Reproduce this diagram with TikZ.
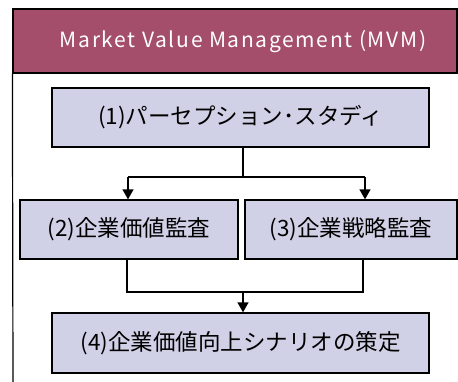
\documentclass[tikz,border=0pt]{standalone}
\usepackage{fontspec}
\setmainfont{Noto Sans CJK JP}
\newfontfamily\jpfont{Noto Sans CJK JP}
\newfontfamily\hdrfont[LetterSpace=8]{Noto Sans CJK JP}
\usetikzlibrary{arrows.meta}
\definecolor{hdr}{RGB}{164,78,108}
\definecolor{boxfill}{RGB}{208,208,230}
\tikzset{
  stepbox/.style={draw=black, line width=1.3pt, fill=boxfill, inner sep=0pt,
    font=\jpfont\fontsize{22.5}{26}\selectfont, text=black},
  conn/.style={draw=black, line width=1.3pt},
  arr/.style={conn, -{Triangle[length=10pt,width=11pt]}}
}
\begin{document}
\begin{tikzpicture}[x=1pt,y=-1pt]
\useasboundingbox (0,0) rectangle (458,381);
\fill[white] (0,0) rectangle (458,381);
% header
\node[draw=black, line width=1.2pt, fill=hdr, minimum width=444pt, minimum height=64pt, inner sep=0pt] (hdr) at (235,41) {};
\node[inner sep=0pt, text=white, font=\hdrfont\fontsize{21}{24}\selectfont] (hdrtxt) at (243,42) {Market Value Management (MVM)};
\coordinate (lbot) at (13,384);
\draw[line width=1.2pt] (hdr.south west) -- (lbot);
% boxes
\node[stepbox, minimum width=377pt, minimum height=59pt] (b1) at (240.5,117.5) {(1)パーセプション･スタディ};
\node[stepbox, minimum width=218pt, minimum height=59pt] (b2) at (129,229.5) {(2)企業価値監査};
\node[stepbox, minimum width=212pt, minimum height=59pt] (b3) at (351,229.5) {(3)企業戦略監査};
\node[stepbox, minimum width=377pt, minimum height=60pt] (b4) at (240.5,343) {(4)企業価値向上シナリオの策定};
% connectors top
\coordinate (j1) at (243,177);
\coordinate (l1) at (128,177);
\coordinate (r1) at (365,177);
\draw[conn] (b1.south -| j1) -- (j1);
\draw[conn] (l1) -- (r1);
\draw[arr] (l1) -- (l1 |- b2.north);
\draw[arr] (r1) -- (r1 |- b3.north);
% connectors bottom
\coordinate (l2) at (127,292);
\coordinate (r2) at (363,292);
\coordinate (j2) at (243,292);
\draw[conn] (l2 |- b2.south) -- (l2) -- (r2) -- (r2 |- b3.south);
\draw[arr] (j2) -- (j2 |- b4.north);
\end{tikzpicture}
\end{document}
